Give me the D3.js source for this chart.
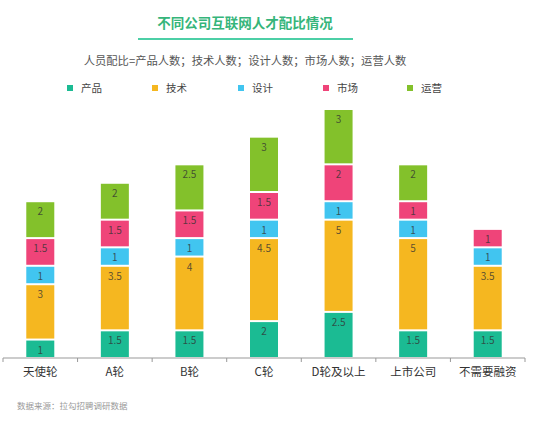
<!DOCTYPE html>
<html><head><meta charset="utf-8">
<script src="https://cdn.jsdelivr.net/npm/d3@7"></script>
<style>body{margin:0;background:#fff}svg{display:block;font-family:"Noto Sans CJK SC","Noto Sans",sans-serif}</style>
</head><body>
<svg id="c" width="550" height="423"></svg>
<script>
const categories = ["天使轮","A轮","B轮","C轮","D轮及以上","上市公司","不需要融资"];
const seriesNames = ["产品","技术","设计","市场","运营"];
const product = [1,1.5,1.5,2,2.5,1.5,1.5];
const tech    = [3,3.5,4,4.5,5,5,3.5];
const design  = [1,1,1,1,1,1,1];
const market  = [1.5,1.5,1.5,1.5,2,1,1];
const ops     = [2,2,2.5,3,3,2,0];
const colors = ["#1bbb93","#f5b720","#41c5f0","#ef4479","#83c12b"];

const rows = categories.map((c,i)=>({cat:c,"产品":product[i],"技术":tech[i],"设计":design[i],"市场":market[i],"运营":ops[i]}));
const stacked = d3.stack().keys(seriesNames)(rows);

const svg = d3.select("#c");
const x = d3.scaleBand().domain(categories).range([3,525]).paddingInner(0).paddingOuter(0);
const y = d3.scaleLinear().domain([0,13.5]).range([358,109]);
const bw = 28;

// title
svg.append("text").attr("x",245).attr("y",28).attr("text-anchor","middle")
  .attr("font-size",13.5).attr("font-weight","bold").attr("fill","#35b57a").text("不同公司互联网人才配比情况");
svg.append("line").attr("x1",138).attr("x2",353).attr("y1",39).attr("y2",39)
  .attr("stroke","#4ccfa6").attr("stroke-width",2);
svg.append("text").attr("x",245).attr("y",65).attr("text-anchor","middle")
  .attr("font-size",11.3).attr("fill","#555").text("人员配比=产品人数；技术人数；设计人数；市场人数；运营人数");

// legend
const lx = [67,152,238,323,407];
seriesNames.forEach((s,i)=>{
  svg.append("rect").attr("x",lx[i]).attr("y",85).attr("width",6).attr("height",6).attr("fill",colors[i]);
  svg.append("text").attr("x",lx[i]+14).attr("y",92).attr("font-size",10.5).attr("fill","#444").text(s);
});

// bars
const g = svg.append("g");
stacked.forEach((layer,si)=>{
  layer.forEach((d,i)=>{
    const v = d[1]-d[0];
    if(v<=0) return;
    const cx = x(categories[i]) + x.bandwidth()/2;
    const top = y(d[1]), bot = y(d[0]);
    g.append("rect").attr("x",cx-bw/2).attr("y",top+1).attr("width",bw)
      .attr("height",Math.max(0,bot-top-2)).attr("fill",colors[si]);
    g.append("text").attr("x",cx).attr("y",top+14).attr("text-anchor","middle")
      .attr("font-size",10).attr("fill","#333").attr("fill-opacity",0.8).text(v);
  });
});

// axis
const ax = svg.append("g").attr("transform","translate(0,358)");
ax.append("line").attr("x1",3).attr("x2",525).attr("stroke","#999");
const bounds = categories.map(c=>x(c)).concat([x.range()[1]]);
ax.selectAll(".tk").data(bounds).join("line").attr("x1",d=>d).attr("x2",d=>d).attr("y1",0).attr("y2",4).attr("stroke","#999");
ax.selectAll(".lb").data(categories).join("text")
  .attr("x",d=>x(d)+x.bandwidth()/2).attr("y",18).attr("text-anchor","middle")
  .attr("font-size",11.5).attr("fill","#333").text(d=>d);

svg.append("text").attr("x",17).attr("y",409).attr("font-size",8.5).attr("fill","#999").text("数据来源：拉勾招聘调研数据");
</script>
</body></html>
